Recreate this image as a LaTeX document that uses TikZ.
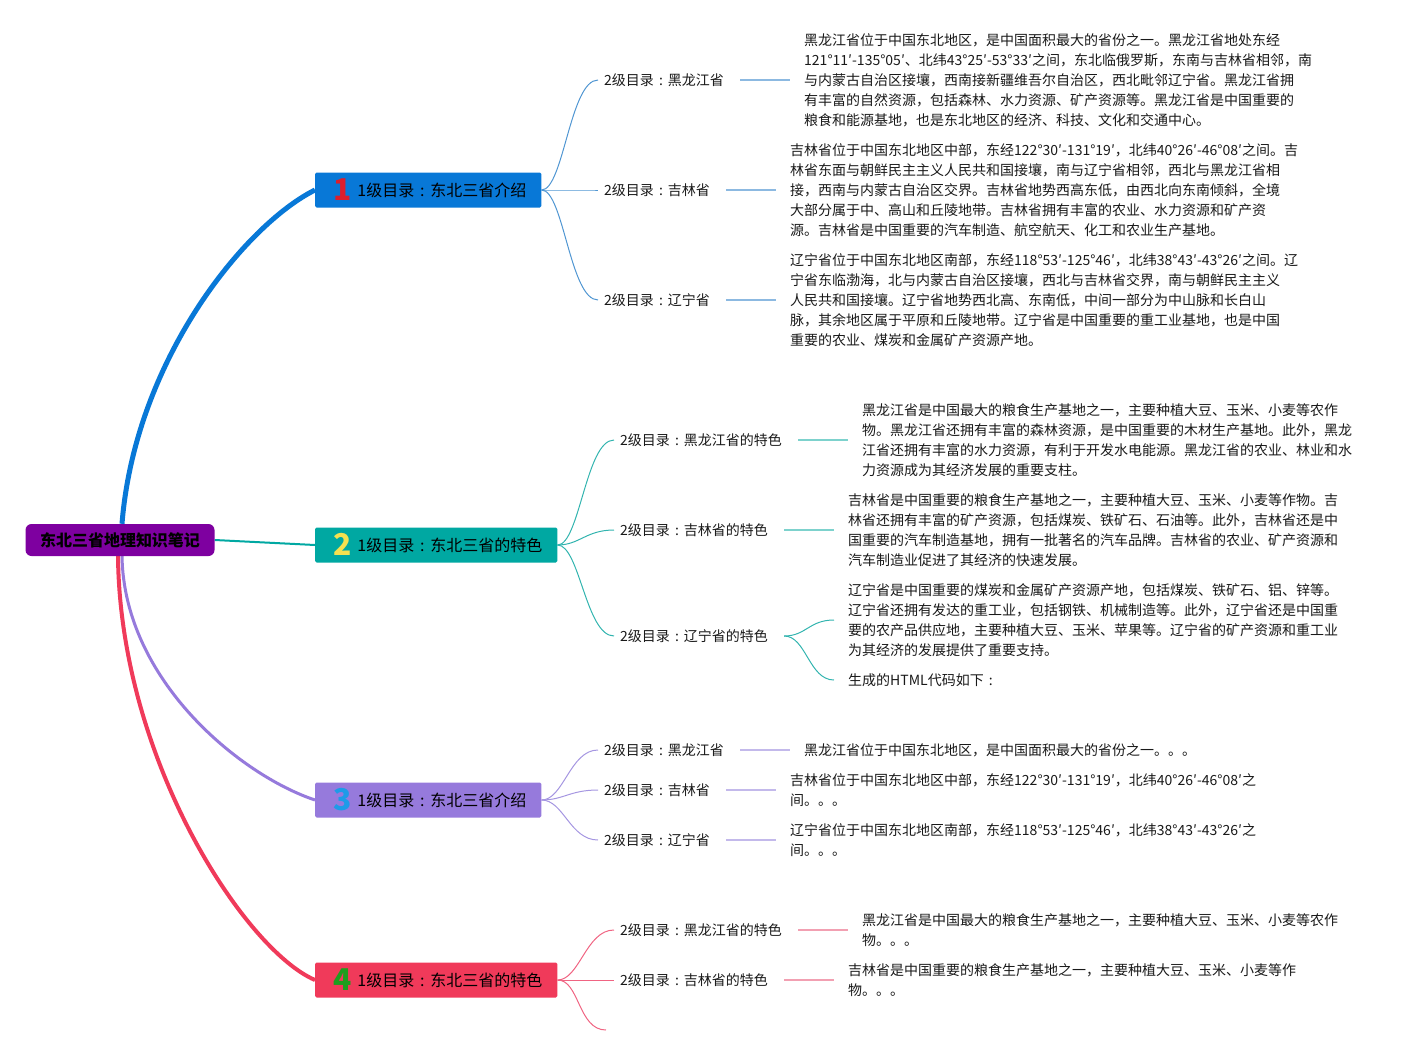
\documentclass[tikz,border=0pt]{standalone}
\usepackage{fontspec}
\setmainfont{Noto Sans CJK SC}
\usepackage{tikz}
\usetikzlibrary{arrows,shapes}
\pgfdeclarelayer{background}
\pgfsetlayers{background,main}
\definecolor{rootfill}{RGB}{126,0,160}
\definecolor{topicA}{RGB}{8,120,215}
\definecolor{topicB}{RGB}{0,168,162}
\definecolor{topicC}{RGB}{150,122,220}
\definecolor{topicD}{RGB}{240,58,90}
\definecolor{thinA}{RGB}{80,150,210}
\definecolor{thinB}{RGB}{50,180,175}
\definecolor{thinC}{RGB}{165,150,225}
\definecolor{thinD}{RGB}{240,100,130}
\definecolor{lineA}{RGB}{140,185,225}
\definecolor{lineB}{RGB}{125,210,205}
\definecolor{lineC}{RGB}{195,185,235}
\definecolor{lineD}{RGB}{242,160,178}
\definecolor{numA}{RGB}{220,30,45}
\definecolor{numB}{RGB}{245,225,80}
\definecolor{numC}{RGB}{30,155,232}
\definecolor{numD}{RGB}{30,158,30}
\definecolor{ink}{RGB}{25,25,25}
\tikzstyle{root}=[rectangle,rounded corners=6pt,fill=rootfill,minimum width=189pt,minimum height=32pt,inner sep=0pt,font=\fontsize{16}{16}\selectfont\bfseries]
\tikzstyle{topic}=[rectangle,rounded corners=1.5pt,anchor=west,minimum height=35pt,inner sep=0pt,font=\fontsize{16}{16}\selectfont]
\tikzstyle{sub}=[anchor=west,inner xsep=6pt,inner ysep=0pt,text=ink,font=\fontsize{14}{20}\selectfont]
\tikzstyle{leaf}=[anchor=west,align=left,inner sep=0pt,text=ink,font=\fontsize{14}{20}\selectfont]
\tikzstyle{edge}=[draw,-]
\newcommand{\topicnum}[2]{\hspace*{18pt}\smash{\raisebox{-4pt}{\color{#1}\fontsize{30}{30}\selectfont\bfseries #2}}\hspace{6pt}}
\newcommand{\cjkcolon}{\makebox[1em][c]{:}}

\begin{document}
\begin{tikzpicture}[x=1pt,y=-1pt]
    \useasboundingbox (0,0) rectangle (1422,1055);
    % First we draw the root and the four topics
    \node[root] (root) at (120,540) {东北三省地理知识笔记};
    \foreach \pos/\name/\col/\numcol/\num/\txt in {{(315,190)/b1/topicA/numA/1/东北三省介绍}, {(315,545)/b2/topicB/numB/2/东北三省的特色}, {(315,800)/b3/topicC/numC/3/东北三省介绍}, {(315,980)/b4/topicD/numD/4/东北三省的特色}}
        \node[topic,fill=\col] (\name) at \pos {\topicnum{\numcol}{\num}1级目录\cjkcolon\txt\hspace*{15pt}};
    % Then the second level
    \foreach \pos/\name/\txt in {{(598,80)/s11/黑龙江省}, {(598,190)/s12/吉林省}, {(598,300)/s13/辽宁省}, {(614,440)/s21/黑龙江省的特色}, {(614,530)/s22/吉林省的特色}, {(614,636)/s23/辽宁省的特色}, {(598,750)/s31/黑龙江省}, {(598,790)/s32/吉林省}, {(598,840)/s33/辽宁省}, {(614,930)/s41/黑龙江省的特色}, {(614,980)/s42/吉林省的特色}}
        \node[sub] (\name) at \pos {2级目录\cjkcolon\txt};
    \coordinate (e43) at (606,1030);
    % The notes
    \node[leaf] (t11) at (804,80) {黑龙江省位于中国东北地区，是中国面积最大的省份之一。黑龙江省地处东经\\121°11′-135°05′、北纬43°25′-53°33′之间，东北临俄罗斯，东南与吉林省相邻，南\\与内蒙古自治区接壤，西南接新疆维吾尔自治区，西北毗邻辽宁省。黑龙江省拥\\有丰富的自然资源，包括森林、水力资源、矿产资源等。黑龙江省是中国重要的\\粮食和能源基地，也是东北地区的经济、科技、文化和交通中心。};
    \node[leaf] (t12) at (790,190) {吉林省位于中国东北地区中部，东经122°30′-131°19′，北纬40°26′-46°08′之间。吉\\林省东面与朝鲜民主主义人民共和国接壤，南与辽宁省相邻，西北与黑龙江省相\\接，西南与内蒙古自治区交界。吉林省地势西高东低，由西北向东南倾斜，全境\\大部分属于中、高山和丘陵地带。吉林省拥有丰富的农业、水力资源和矿产资\\源。吉林省是中国重要的汽车制造、航空航天、化工和农业生产基地。};
    \node[leaf] (t13) at (790,300) {辽宁省位于中国东北地区南部，东经118°53′-125°46′，北纬38°43′-43°26′之间。辽\\宁省东临渤海，北与内蒙古自治区接壤，西北与吉林省交界，南与朝鲜民主主义\\人民共和国接壤。辽宁省地势西北高、东南低，中间一部分为中山脉和长白山\\脉，其余地区属于平原和丘陵地带。辽宁省是中国重要的重工业基地，也是中国\\重要的农业、煤炭和金属矿产资源产地。};
    \node[leaf] (t21) at (862,440) {黑龙江省是中国最大的粮食生产基地之一，主要种植大豆、玉米、小麦等农作\\物。黑龙江省还拥有丰富的森林资源，是中国重要的木材生产基地。此外，黑龙\\江省还拥有丰富的水力资源，有利于开发水电能源。黑龙江省的农业、林业和水\\力资源成为其经济发展的重要支柱。};
    \node[leaf] (t22) at (848,530) {吉林省是中国重要的粮食生产基地之一，主要种植大豆、玉米、小麦等作物。吉\\林省还拥有丰富的矿产资源，包括煤炭、铁矿石、石油等。此外，吉林省还是中\\国重要的汽车制造基地，拥有一批著名的汽车品牌。吉林省的农业、矿产资源和\\汽车制造业促进了其经济的快速发展。};
    \node[leaf] (t23) at (848,620) {辽宁省是中国重要的煤炭和金属矿产资源产地，包括煤炭、铁矿石、铝、锌等。\\辽宁省还拥有发达的重工业，包括钢铁、机械制造等。此外，辽宁省还是中国重\\要的农产品供应地，主要种植大豆、玉米、苹果等。辽宁省的矿产资源和重工业\\为其经济的发展提供了重要支持。};
    \node[leaf] (t24) at (848,680) {生成的HTML代码如下\cjkcolon};
    \node[leaf] (t31) at (804,750) {黑龙江省位于中国东北地区，是中国面积最大的省份之一。。。};
    \node[leaf] (t32) at (790,790) {吉林省位于中国东北地区中部，东经122°30′-131°19′，北纬40°26′-46°08′之\\间。。。};
    \node[leaf] (t33) at (790,840) {辽宁省位于中国东北地区南部，东经118°53′-125°46′，北纬38°43′-43°26′之\\间。。。};
    \node[leaf] (t41) at (862,930) {黑龙江省是中国最大的粮食生产基地之一，主要种植大豆、玉米、小麦等农作\\物。。。};
    \node[leaf] (t42) at (848,980) {吉林省是中国重要的粮食生产基地之一，主要种植大豆、玉米、小麦等作\\物。。。};
    % Connect everything behind the boxes
    \begin{pgfonlayer}{background}
        \path[edge,topicA,line width=5pt] ([xshift=2pt]root.north) .. controls (135,360) and (245,225) .. (b1.west);
        \path[edge,topicB,line width=2pt] (root.east) -- (b2.west);
        \path[edge,topicC,line width=3pt] ([xshift=2pt]root.south) .. controls (124,680) and (240,775) .. (b3.west);
        \path[edge,topicD,line width=4pt] ([xshift=-2pt]root.south) .. controls (120,760) and (245,950) .. (b4.west);
        \foreach \source/\dest/\col in {b1/s11.west/thinA, b1/s12.west/thinA, b1/s13.west/thinA, b2/s21.west/thinB, b2/s22.west/thinB, b2/s23.west/thinB, b3/s31.west/thinC, b3/s32.west/thinC, b3/s33.west/thinC, b4/s41.west/thinD, b4/s42.west/thinD, b4/e43/thinD}
            \path[edge,\col,line width=1pt] (\source.east) .. controls +(22,0) and +(-28,0) .. (\dest);
        \foreach \source/\dest/\col in {s11/t11/lineA, s12/t12/lineA, s13/t13/lineA, s21/t21/lineB, s22/t22/lineB, s31/t31/lineC, s32/t32/lineC, s33/t33/lineC, s41/t41/lineD, s42/t42/lineD}
            \path[edge,\col,line width=2pt] ([xshift=10pt]\source.east) -- ([xshift=-14pt]\dest.west);
        \foreach \dest in {t23,t24}
            \path[edge,thinB,line width=1pt] ([xshift=10pt]s23.east) .. controls +(22,0) and +(-25,0) .. ([xshift=-14pt]\dest.west);
    \end{pgfonlayer}
\end{tikzpicture}
\end{document}
